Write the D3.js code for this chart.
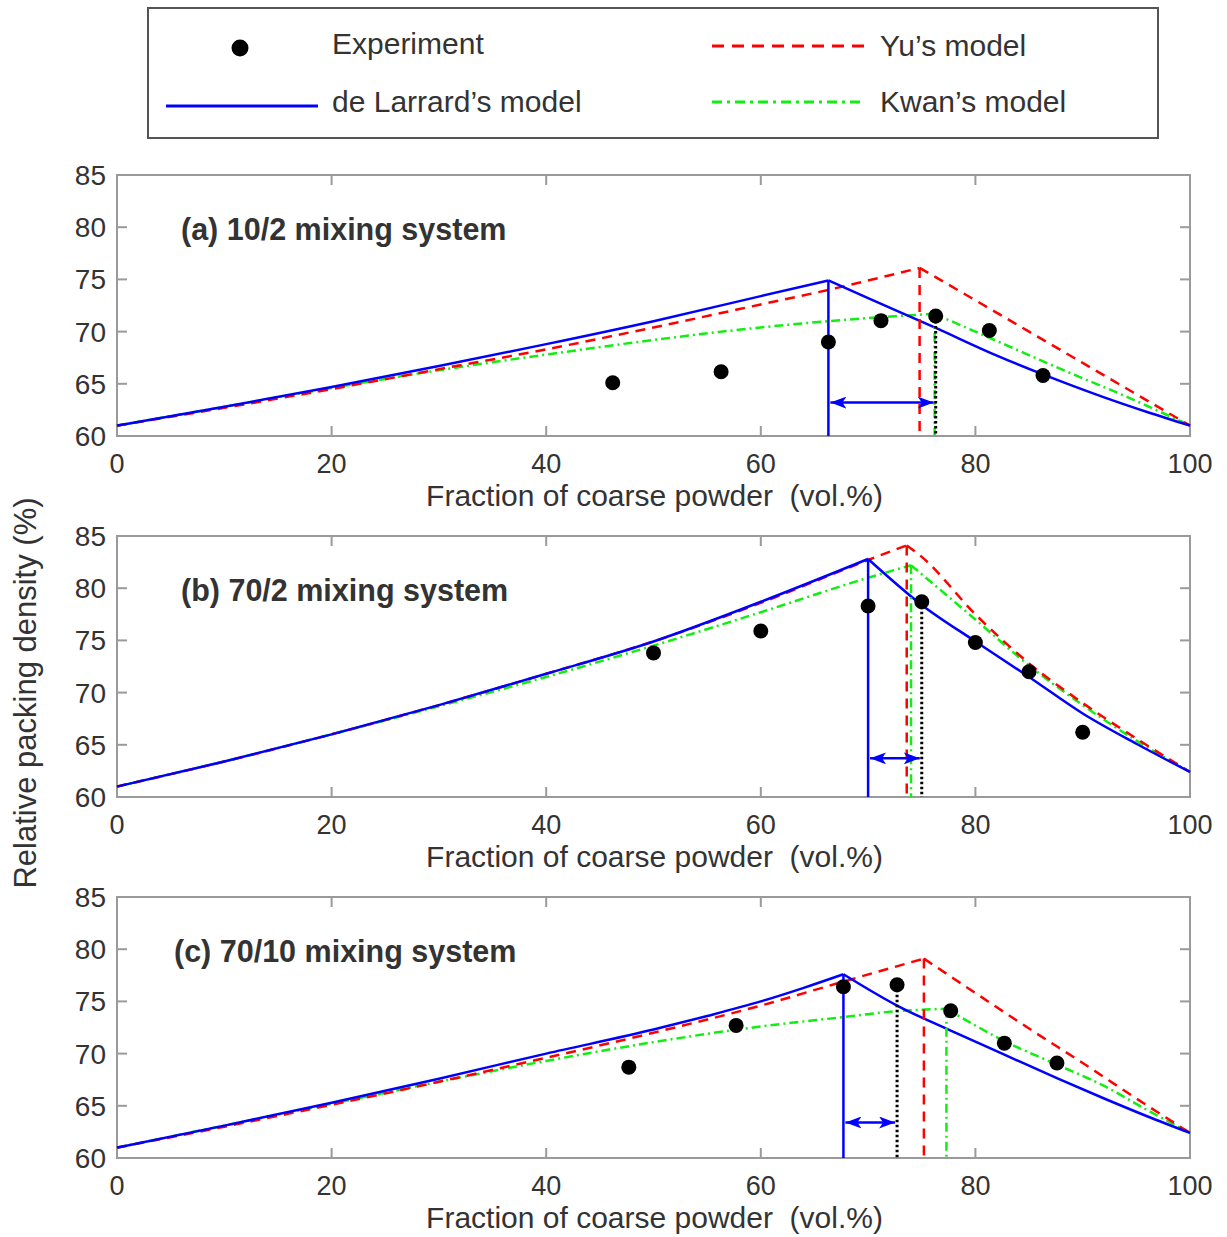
<!DOCTYPE html>
<html>
<head>
<meta charset="utf-8">
<script src="https://cdn.jsdelivr.net/npm/d3@7"></script>
<style>
  body { margin: 0; background: #fff; }
  text { font-family: "Liberation Sans", Arial, sans-serif; fill: #333; }
</style>
</head>
<body>
<div id="chart"></div>
<script>
// tick values shared by all three panels
var xTicks = [0, 20, 40, 60, 80, 100];
var yTicks = [60, 65, 70, 75, 80, 85];
var panelTitles = ["(a) 10/2 mixing system", "(b) 70/2 mixing system", "(c) 70/10 mixing system"];
var legendLabels = ["Experiment", "de Larrard\u2019s model", "Yu\u2019s model", "Kwan\u2019s model"];

// panel (a) 10/2
var expA = [[46.2, 65.1], [56.3, 66.15], [66.3, 69.0], [71.2, 71.05], [76.3, 71.5], [81.3, 70.1], [86.3, 65.8]];
var larrardA = [[0, 61], [10, 62.8], [20, 64.7], [30, 66.7], [40, 68.8], [50, 71.0], [60, 73.4], [66.3, 74.9],
                [70, 73.2], [76.2, 70.4], [82, 67.7], [86.3, 65.9], [92, 63.7], [96, 62.3], [100, 61]];
var yuA = [[0, 61], [10, 62.7], [20, 64.5], [30, 66.4], [40, 68.3], [50, 70.4], [60, 72.6], [66.3, 74.0],
           [74.8, 76.1], [80, 73.0], [85, 70.0], [90, 67.0], [95, 64.0], [100, 61]];
var kwanA = [[0, 61], [10, 62.8], [20, 64.6], [30, 66.3], [40, 67.8], [50, 69.2], [60, 70.4], [66.3, 71.0],
             [70, 71.3], [76.2, 71.7], [82, 69.1], [88, 66.4], [94, 63.8], [100, 61]];

// panel (b) 70/2
var expB = [[50, 73.8], [60, 75.9], [70, 78.3], [75, 78.7], [80, 74.8], [85, 72.0], [90, 66.2]];
var larrardB = [[0, 61], [10, 63.4], [20, 66.0], [30, 68.8], [40, 71.8], [50, 74.9], [60, 78.7], [70, 82.8],
                [75, 78.4], [80, 74.9], [85, 71.5], [90, 68.0], [95, 65.1], [100, 62.4]];
var yuB = [[0, 61], [10, 63.4], [20, 66.0], [30, 68.8], [40, 71.8], [50, 74.9], [60, 78.6], [70, 82.7],
           [73.6, 84.1], [75, 83.0], [80, 77.5], [85, 72.8], [90, 69.0], [95, 65.6], [100, 62.4]];
var kwanB = [[0, 61], [10, 63.4], [20, 66.0], [30, 68.7], [40, 71.5], [50, 74.5], [60, 77.7], [70, 81.0],
             [74, 82.2], [80, 77.0], [85, 72.6], [90, 68.8], [95, 65.4], [100, 62.4]];

// panel (c) 70/10
var expC = [[47.7, 68.7], [57.7, 72.7], [67.7, 76.4], [72.7, 76.6], [77.7, 74.1], [82.7, 71.0], [87.6, 69.1]];
var larrardC = [[0, 61], [10, 63.1], [20, 65.3], [30, 67.6], [40, 70.0], [50, 72.3], [55, 73.6], [60, 75.0],
                [64, 76.3], [67.7, 77.6], [72.7, 74.6], [77.7, 72.2], [82.7, 69.9], [87.7, 67.6], [92, 65.7],
                [96, 64.0], [100, 62.4]];
var yuC = [[0, 61], [10, 63.0], [20, 65.1], [30, 67.3], [40, 69.6], [50, 72.0], [60, 74.6], [67.7, 76.9],
           [75.2, 79.1], [80, 75.8], [85, 72.4], [90, 69.1], [95, 65.7], [100, 62.4]];
var kwanC = [[0, 61], [10, 63.1], [20, 65.2], [30, 67.3], [40, 69.3], [50, 71.1], [60, 72.6], [67.7, 73.5],
             [72, 74.0], [77.3, 74.3], [82.7, 71.2], [87.7, 68.9], [92, 66.9], [96, 64.6], [100, 62.4]];

// height of the double arrow in each panel
var arrowY = [63.2, 63.7, 63.4];

var panels = [
    {exp: expA, larrard: larrardA, yu: yuA, kwan: kwanA},
    {exp: expB, larrard: larrardB, yu: yuB, kwan: kwanB},
    {exp: expC, larrard: larrardC, yu: yuC, kwan: kwanC}
];

var width = 1227, height = 1237;
var left = 117, right = 1190;
var panelTop = [175, 536, 897];
var panelH = 261;

var BLUE = "#0000ff", RED = "#ff0000", GREEN = "#11ee11", AXIS = "#9a9a9a";

var svg = d3.select("#chart").append("svg")
    .attr("width", width)
    .attr("height", height)
    .style("background", "#fff");

// arrow heads
var defs = svg.append("defs");
["start", "end"].forEach(function(k) {
    defs.append("marker")
        .attr("id", "arrow-" + k)
        .attr("markerUnits", "userSpaceOnUse")
        .attr("viewBox", "0 0 16 12")
        .attr("refX", k == "end" ? 16 : 0)
        .attr("refY", 6)
        .attr("markerWidth", 16)
        .attr("markerHeight", 12)
        .attr("orient", "auto")
        .append("path")
        .attr("d", k == "end" ? "M0,0 L16,6 L0,12 L4,6 Z" : "M16,0 L0,6 L16,12 L12,6 Z")
        .attr("fill", BLUE);
});

var x = d3.scaleLinear().domain([0, 100]).range([left, right]);

function peakOf(arr) {
    return arr.reduce(function(a, b) { return b[1] > a[1] ? b : a; });
}

panels.forEach(function(p, i) {
    var top = panelTop[i];
    var y = d3.scaleLinear().domain([60, 85]).range([top + panelH, top]);
    var g = svg.append("g");

    var line = d3.line()
        .curve(d3.curveMonotoneX)
        .x(d => x(d[0]))
        .y(d => y(d[1]));

    // draw a model as two monotone branches so the optimum stays sharp
    function drawModel(arr, color, dash) {
        var pk = peakOf(arr);
        var k = arr.indexOf(pk);
        [arr.slice(0, k + 1), arr.slice(k)].forEach(function(part) {
            g.append("path").datum(part).attr("d", line)
                .attr("fill", "none").attr("stroke", color).attr("stroke-width", 2.5)
                .attr("stroke-linejoin", "round")
                .attr("stroke-dasharray", dash);
        });
    }

    // frame
    g.append("rect")
        .attr("x", left).attr("y", top)
        .attr("width", right - left).attr("height", panelH)
        .attr("fill", "none").attr("stroke", AXIS).attr("stroke-width", 2);

    // inward ticks on all four sides
    xTicks.forEach(function(t) {
        if (t == 0 || t == 100) return;
        g.append("line").attr("x1", x(t)).attr("x2", x(t))
            .attr("y1", top + panelH).attr("y2", top + panelH - 10)
            .attr("stroke", AXIS).attr("stroke-width", 2);
        g.append("line").attr("x1", x(t)).attr("x2", x(t))
            .attr("y1", top).attr("y2", top + 10)
            .attr("stroke", AXIS).attr("stroke-width", 2);
    });
    yTicks.forEach(function(t) {
        if (t == 60 || t == 85) return;
        g.append("line").attr("x1", left).attr("x2", left + 10)
            .attr("y1", y(t)).attr("y2", y(t))
            .attr("stroke", AXIS).attr("stroke-width", 2);
        g.append("line").attr("x1", right).attr("x2", right - 10)
            .attr("y1", y(t)).attr("y2", y(t))
            .attr("stroke", AXIS).attr("stroke-width", 2);
    });

    // tick labels
    g.selectAll(".xl").data(xTicks).enter().append("text")
        .attr("x", d => x(d))
        .attr("y", top + panelH + 37)
        .attr("text-anchor", "middle")
        .style("font-size", "27px")
        .text(d => d);
    g.selectAll(".yl").data(yTicks).enter().append("text")
        .attr("x", 106)
        .attr("y", d => y(d) + 10)
        .attr("text-anchor", "end")
        .style("font-size", "28px")
        .text(d => d);

    // x axis title
    g.append("text")
        .attr("x", (left + right) / 2 + 1)
        .attr("y", top + panelH + 70)
        .attr("text-anchor", "middle")
        .attr("xml:space", "preserve")
        .style("font-size", "30px")
        .text("Fraction of coarse powder  (vol.%)");

    // panel title
    g.append("text")
        .attr("x", i == 2 ? 174 : 181)
        .attr("y", top + 65)
        .style("font-size", "30.5px")
        .style("font-weight", "bold")
        .text(panelTitles[i]);

    // model curves
    drawModel(p.kwan, GREEN, "9,4,2,4");
    drawModel(p.yu, RED, "10,7");
    drawModel(p.larrard, BLUE, null);

    // vertical drop lines from each optimum
    var pk = peakOf(p.kwan), py = peakOf(p.yu), pl = peakOf(p.larrard), pe = peakOf(p.exp);
    g.append("line").attr("x1", x(pk[0])).attr("x2", x(pk[0]))
        .attr("y1", y(pk[1])).attr("y2", y(60))
        .attr("stroke", GREEN).attr("stroke-width", 2.5).attr("stroke-dasharray", "9,4,2,4");
    g.append("line").attr("x1", x(py[0])).attr("x2", x(py[0]))
        .attr("y1", y(py[1])).attr("y2", y(60))
        .attr("stroke", RED).attr("stroke-width", 2.5).attr("stroke-dasharray", "10,7");
    g.append("line").attr("x1", x(pl[0])).attr("x2", x(pl[0]))
        .attr("y1", y(pl[1])).attr("y2", y(60))
        .attr("stroke", BLUE).attr("stroke-width", 2.5);
    g.append("line").attr("x1", x(pe[0])).attr("x2", x(pe[0]))
        .attr("y1", y(pe[1])).attr("y2", y(60))
        .attr("stroke", "#000").attr("stroke-width", 3).attr("stroke-dasharray", "2.5,2.5");

    // double arrow between de Larrard optimum and experimental optimum
    g.append("line")
        .attr("x1", x(pl[0]) + 2).attr("x2", x(pe[0]) - 2)
        .attr("y1", y(arrowY[i])).attr("y2", y(arrowY[i]))
        .attr("stroke", BLUE).attr("stroke-width", 2.5)
        .attr("marker-start", "url(#arrow-start)")
        .attr("marker-end", "url(#arrow-end)");

    // experiment points
    g.selectAll(".pt").data(p.exp).enter().append("circle")
        .attr("cx", d => x(d[0]))
        .attr("cy", d => y(d[1]))
        .attr("r", 7.5)
        .attr("fill", "#000");
});

// y axis title
svg.append("text")
    .attr("transform", "translate(36,693) rotate(-90)")
    .attr("text-anchor", "middle")
    .style("font-size", "31px")
    .text("Relative packing density (%)");

// legend
var lg = svg.append("g");
lg.append("rect")
    .attr("x", 148).attr("y", 8).attr("width", 1010).attr("height", 130)
    .attr("fill", "#fff").attr("stroke", "#555").attr("stroke-width", 2);
lg.append("circle").attr("cx", 240).attr("cy", 48).attr("r", 8.5).attr("fill", "#000");
lg.append("line").attr("x1", 166).attr("x2", 318).attr("y1", 106).attr("y2", 106)
    .attr("stroke", BLUE).attr("stroke-width", 3);
lg.append("line").attr("x1", 712).attr("x2", 864).attr("y1", 46).attr("y2", 46)
    .attr("stroke", RED).attr("stroke-width", 3).attr("stroke-dasharray", "12,8");
lg.append("line").attr("x1", 712).attr("x2", 864).attr("y1", 102).attr("y2", 102)
    .attr("stroke", GREEN).attr("stroke-width", 3).attr("stroke-dasharray", "10,5,3,5");
var legPos = [[332, 54], [332, 112], [880, 56], [880, 112]];
legendLabels.forEach(function(t, k) {
    lg.append("text")
        .attr("x", legPos[k][0]).attr("y", legPos[k][1])
        .style("font-size", "30px")
        .text(t);
});
</script>
</body>
</html>
